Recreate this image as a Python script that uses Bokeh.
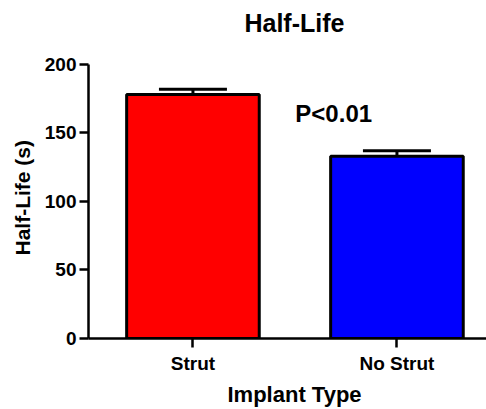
from bokeh.plotting import figure
from bokeh.models import ColumnDataSource, FixedTicker, Whisker, TeeHead, Label, Title
from bokeh.embed import file_html
from bokeh.resources import INLINE

# ---- data ----
categories = ["Strut", "No Strut"]
half_life = [178, 133]
sem = [4, 4]
y_ticks = [0, 50, 100, 150, 200]
colors = ["#FF0000", "#0000FF"]
chart_title = "Half-Life"
p_text = "P<0.01"
x_title = "Implant Type"
y_title = "Half-Life (s)"

FONT = "Liberation Sans"

xs = list(range(len(categories)))
upper = [m + e for m, e in zip(half_life, sem)]
src = ColumnDataSource(dict(x=xs, top=half_life, upper=upper, color=colors))

# frame spans the full height above the x axis; the y axis itself is bounded to 0..200
p = figure(width=486, height=409, output_backend="svg", toolbar_location=None,
           x_range=(-0.512, 1.439), y_range=(0, 246.7),
           min_border_left=86, min_border_right=0, min_border_top=0, min_border_bottom=71)

p.vbar(x="x", top="top", width=0.65, bottom=0, source=src, fill_color="color",
       line_color="black", line_width=3)

w = Whisker(base="x", upper="upper", lower="top", source=src, line_width=3, line_color="black",
            upper_head=TeeHead(size=68, line_width=3, line_color="black"), lower_head=None)
p.add_layout(w)

p.add_layout(Label(x=0.4976, y=230.5, text=chart_title, text_font=FONT, text_font_size="25px",
                   text_font_style="bold", text_align="center", text_baseline="alphabetic",
                   text_color="black"))

p.add_layout(Label(x=0.69, y=164.0, text=p_text, text_font=FONT, text_font_size="24px",
                   text_font_style="bold", text_align="center", text_baseline="alphabetic",
                   text_color="black"))

# axes
p.xgrid.visible = False
p.ygrid.visible = False
p.outline_line_color = None

for ax in (p.xaxis[0], p.yaxis[0]):
    ax.axis_line_width = 2.5
    ax.axis_line_color = "black"
    ax.major_tick_line_width = 2.5
    ax.major_tick_line_color = "black"
    ax.major_tick_in = 0
    ax.major_tick_out = 9
    ax.minor_tick_line_color = None
    ax.major_label_text_font = FONT
    ax.major_label_text_font_style = "bold"
    ax.major_label_text_font_size = "19px"
    ax.major_label_text_color = "black"

p.xaxis.ticker = FixedTicker(ticks=xs)
p.xaxis.major_label_overrides = {i: c for i, c in zip(xs, categories)}
p.xaxis.major_label_standoff = 5

p.yaxis.ticker = FixedTicker(ticks=y_ticks)
p.yaxis.bounds = (0, 200)
p.yaxis.major_label_standoff = 3

p.add_layout(Title(text=y_title, text_font=FONT, text_font_size="21px",
                   text_font_style="bold", align="left", offset=83, standoff=16,
                   text_color="black"), "left")
p.add_layout(Title(text=x_title, text_font=FONT, text_font_size="22px",
                   text_font_style="bold", align="left", offset=139, standoff=6,
                   text_color="black"), "below")

open("out.html", "w").write(file_html(p, INLINE))
